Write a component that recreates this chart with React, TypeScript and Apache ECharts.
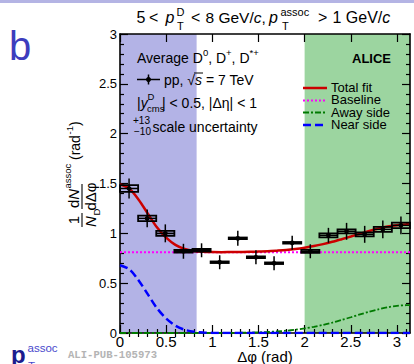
import React, { useEffect, useRef } from 'react';
import * as echarts from 'echarts';

const PI = Math.PI;
const FONT = '"Liberation Sans", Arial, Helvetica, sans-serif';

// Δφ bins (16 bins of width π/16) and the averaged D-hadron correlation
const binCenters = [0.0982, 0.2945, 0.4909, 0.6872, 0.8836, 1.0799, 1.2763, 1.4726, 1.669, 1.8653, 2.0617, 2.258, 2.4544, 2.6507, 2.8471, 3.0434];
const binWidth = PI / 16;
const corrValues = [1.45, 1.15, 1.0, 0.82, 0.83, 0.71, 0.95, 0.76, 0.7, 0.905, 0.82, 0.98, 1.02, 0.99, 1.04, 1.08];
const statErr = [0.1, 0.09, 0.09, 0.075, 0.07, 0.07, 0.075, 0.07, 0.07, 0.07, 0.07, 0.075, 0.085, 0.085, 0.09, 0.09];
const sysErr = [0.034, 0.027, 0.024, 0.013, 0.013, 0.008, 0.008, 0.008, 0.008, 0.008, 0.015, 0.02, 0.02, 0.02, 0.025, 0.028];

// Fit curves, tabulated along Δφ
const curveX = [0, 0.1, 0.2, 0.3, 0.4, 0.5, 0.6, 0.7, 0.8, 0.9, 1.0, 1.1, 1.2, 1.3, 1.4, 1.5, 1.6, 1.7, 1.8, 1.9, 2.0, 2.1, 2.2, 2.3, 2.4, 2.5, 2.6, 2.7, 2.8, 2.9, 3.0, 3.1, PI];
const totalFit = [1.49, 1.45, 1.34, 1.2, 1.06, 0.956, 0.884, 0.843, 0.823, 0.815, 0.812, 0.811, 0.812, 0.813, 0.814, 0.817, 0.82, 0.826, 0.833, 0.843, 0.856, 0.872, 0.892, 0.915, 0.941, 0.968, 0.996, 1.024, 1.048, 1.068, 1.082, 1.089, 1.09];
const nearSide = [0.68, 0.64, 0.53, 0.39, 0.25, 0.146, 0.074, 0.033, 0.013, 0.005, 0.001, 0, 0, 0, 0, 0, 0, 0, 0, 0, 0, 0, 0, 0, 0, 0, 0, 0, 0, 0, 0, 0, 0];
const awaySide = [0, 0, 0, 0, 0, 0, 0, 0, 0, 0, 0.0005, 0.0009, 0.0015, 0.0025, 0.0041, 0.0066, 0.0103, 0.0156, 0.023, 0.0329, 0.0458, 0.062, 0.0817, 0.1047, 0.1305, 0.158, 0.1863, 0.2136, 0.2381, 0.2582, 0.2723, 0.2793, 0.28];
const baselineLevel = 0.81;
const baselineX = [0, PI];

// Near-side and away-side Δφ regions
const nearRegion = [0, 0.83];
const awayRegion = [2.0, PI];

// Axis ticks
const xMajorTicks = [0, 0.5, 1, 1.5, 2, 2.5, 3];
const xMinorTicks = [0.1, 0.2, 0.3, 0.4, 0.6, 0.7, 0.8, 0.9, 1.1, 1.2, 1.3, 1.4, 1.6, 1.7, 1.8, 1.9, 2.1, 2.2, 2.3, 2.4, 2.6, 2.7, 2.8, 2.9, 3.1];
const yRange = [0, 3];
const yInterval = 0.5;

const BLUE_BAND = '#b3b3e6';
const GREEN_BAND = '#9cd5a0';
const RED = '#cc0000';
const MAGENTA = '#ff00ff';
const GREEN = '#007a00';
const BLUE = '#0000ff';

const TOP_Z = 100;

const txt = (text: string, x: number, y: number, size: number, extra: any = {}) => ({
  type: 'text',
  x,
  y,
  z: TOP_Z,
  silent: true,
  style: {
    text,
    fill: '#000',
    fontSize: size,
    fontFamily: FONT,
    lineHeight: size,
    align: 'left',
    verticalAlign: 'middle',
    ...extra,
  },
});

const line = (x1: number, y1: number, x2: number, y2: number, stroke: string, lineWidth: number, lineDash?: number[]) => ({
  type: 'line',
  z: TOP_Z,
  silent: true,
  shape: { x1, y1, x2, y2 },
  style: { stroke, lineWidth, lineDash },
});

const richFont = (size: number, italic = false, extra: any = {}) => ({
  fontSize: size,
  fontFamily: FONT,
  fill: '#000',
  lineHeight: size,
  ...(italic ? { fontStyle: 'italic' } : {}),
  ...extra,
});

export default function App() {
  const ref = useRef<HTMLDivElement>(null);

  useEffect(() => {
    if (!ref.current) return;
    document.body.style.margin = '0';
    const chart = echarts.init(ref.current, null, { renderer: 'svg' });

    const xBase = {
      type: 'value',
      min: 0,
      max: PI,
      z: 1,
      splitLine: { show: false },
      minorSplitLine: { show: false },
    };
    const yBase = {
      type: 'value',
      min: yRange[0],
      max: yRange[1],
      interval: yInterval,
      z: 1,
      splitLine: { show: false },
      minorSplitLine: { show: false },
    };
    const axisLine = { show: true, onZero: false, lineStyle: { color: '#000', width: 1.6 } };
    const tickStyle = { color: '#000', width: 1.2 };

    const ital = { fontStyle: 'italic' };

    const graphic: any[] = [
      // page band
      { type: 'rect', z: TOP_Z, silent: true, shape: { x: 0, y: 0, width: 414, height: 3 }, style: { fill: '#b4b4e4' } },
      // panel letter
      txt('b', 9, 45.5, 40, { fill: '#3d3dbd' }),
      // title
      txt('5', 136.5, 17, 16),
      txt('<', 149, 17, 16),
      txt('p', 165.5, 17, 16, ital),
      txt('D', 176.5, 12, 11),
      txt('T', 177, 26, 11),
      txt('<', 191, 17, 16),
      txt('{n|8 GeV/}{i|c}{n|,}', 205.5, 17, 15.5, { rich: { n: richFont(15.5), i: richFont(15.5, true) } }),
      txt('p', 269, 17, 16, ital),
      txt('assoc', 280.5, 12, 11),
      txt('T', 282, 26, 11),
      txt('>', 318, 17, 16),
      txt('{n|1 GeV/}{i|c}', 332.5, 17, 16, { rich: { n: richFont(16), i: richFont(16, true) } }),
      // legend block, upper left
      txt('{n|Average D}{s|0}{n|, D}{s|+}{n|, D}{s|*+}', 137, 57.5, 14, {
        lineHeight: 20,
        rich: {
          n: richFont(14, false, { lineHeight: 20 }),
          s: richFont(9.5, false, { lineHeight: 10, verticalAlign: 'top' }),
        },
      }),
      line(137, 79.5, 160, 79.5, '#000', 1.5),
      line(148.5, 74.5, 148.5, 84.5, '#000', 1.5),
      { type: 'circle', z: TOP_Z, silent: true, shape: { cx: 148.5, cy: 79.5, r: 2.5 }, style: { fill: '#000' } },
      txt('{n|pp, √}{i|s}{n| = 7 TeV}', 164, 79.5, 14, { rich: { n: richFont(14), i: richFont(14, true) } }),
      line(194, 73, 203, 73, '#000', 1),
      txt('{n||}{i|y}', 137, 102.5, 14, { rich: { n: richFont(14), i: richFont(14, true) } }),
      txt('D', 147.5, 96.5, 9.5),
      txt('cms', 147, 108.5, 9.5),
      txt('| < 0.5, |Δη| < 1', 162, 102.5, 14),
      txt('+13', 133, 120, 10),
      txt('−10', 134, 131.5, 10),
      txt('scale uncertainty', 152.5, 127, 14),
      // experiment label
      txt('ALICE', 352, 58, 13, { fontWeight: 'bold' }),
      // legend block, right
      line(303, 88, 327, 88, RED, 2.5),
      line(303, 100.5, 327, 100.5, MAGENTA, 2, [2, 2]),
      line(303, 112.5, 327, 112.5, GREEN, 1.8, [6, 2, 2, 2]),
      line(303, 125, 327, 125, BLUE, 2.5, [8, 4]),
      txt('Total fit', 331, 87, 13, { lineHeight: 12 }),
      txt('Baseline', 331, 99.6, 13, { lineHeight: 12 }),
      txt('Away side', 331, 112.2, 13, { lineHeight: 12 }),
      txt('Near side', 331, 124.8, 13, { lineHeight: 12 }),
      // x-axis title
      txt('Δφ (rad)', 265, 356.5, 15, { align: 'center', lineHeight: 13 }),
      // y-axis title, reading upwards
      {
        type: 'group',
        x: 82,
        y: 178,
        z: TOP_Z,
        rotation: PI / 2,
        silent: true,
        children: [
          txt('1', -42, -8.5, 15, { align: 'center' }),
          line(-49, 0, -35, 0, '#000', 1.1),
          txt('N', -49, 8.5, 15, ital),
          txt('D', -37.5, 14, 9.5),
          txt('{n|d}{i|N}', -30, -8.5, 15, { rich: { n: richFont(15), i: richFont(15, true) } }),
          txt('assoc', -10.5, -14.5, 9.5),
          line(-31, 0, -6, 0, '#000', 1.1),
          txt('dΔφ', -18.5, 8.5, 15, { align: 'center' }),
          txt('(rad', 18, -7.5, 14),
          txt('-1', 43.5, -13, 9.5),
          txt(')', 52, -7.5, 14),
        ],
      },
      // publication tag
      txt('p', 11, 354, 24, { fontWeight: 'bold', fill: '#1c1c8e' }),
      txt('assoc', 27.5, 348, 11.5, { fill: '#4848cc' }),
      txt('T', 28, 366, 11.5, { fill: '#4848cc' }),
      txt('ALI-PUB-105973', 68, 355, 10.6, { fontFamily: '"Liberation Mono", "DejaVu Sans Mono", monospace', fontWeight: 'bold', fill: '#b4b4b4' }),
    ];

    const option: any = {
      animation: false,
      grid: { left: 120, right: 4, top: 34, bottom: 31, containLabel: false, outerBoundsMode: 'none' },
      tooltip: { show: false },
      xAxis: [
        {
          ...xBase,
          position: 'bottom',
          axisLine,
          axisTick: { show: true, inside: true, length: 8, customValues: xMajorTicks, lineStyle: tickStyle },
          minorTick: { show: false },
          axisLabel: {
            show: true,
            customValues: xMajorTicks,
            color: '#000',
            fontSize: 15,
            fontFamily: FONT,
            margin: 1,
            formatter: (v: number) => String(v),
          },
        },
        {
          ...xBase,
          position: 'bottom',
          axisLine: { show: false },
          axisTick: { show: true, inside: true, length: 4, customValues: xMinorTicks, lineStyle: tickStyle },
          minorTick: { show: false },
          axisLabel: { show: false },
        },
        {
          ...xBase,
          position: 'top',
          axisLine,
          axisTick: { show: true, inside: true, length: 8, customValues: xMajorTicks, lineStyle: tickStyle },
          minorTick: { show: false },
          axisLabel: { show: false },
        },
        {
          ...xBase,
          position: 'top',
          axisLine: { show: false },
          axisTick: { show: true, inside: true, length: 4, customValues: xMinorTicks, lineStyle: tickStyle },
          minorTick: { show: false },
          axisLabel: { show: false },
        },
      ],
      yAxis: [
        {
          ...yBase,
          position: 'left',
          axisLine,
          axisTick: { show: true, inside: true, length: 8, lineStyle: tickStyle },
          minorTick: { show: true, splitNumber: 5, length: 4, lineStyle: tickStyle },
          axisLabel: { show: true, color: '#000', fontSize: 13, fontFamily: FONT, margin: 3 },
        },
        {
          ...yBase,
          position: 'right',
          axisLine,
          axisTick: { show: true, inside: true, length: 8, lineStyle: tickStyle },
          minorTick: { show: true, splitNumber: 5, length: 4, lineStyle: tickStyle },
          axisLabel: { show: false },
        },
      ],
      series: [
        {
          type: 'line',
          data: [],
          silent: true,
          markArea: {
            silent: true,
            z: 0,
            data: [
              [{ xAxis: nearRegion[0], itemStyle: { color: BLUE_BAND } }, { xAxis: nearRegion[1] }],
              [{ xAxis: awayRegion[0], itemStyle: { color: GREEN_BAND } }, { xAxis: awayRegion[1] }],
            ],
          },
        },
        {
          name: 'Baseline',
          type: 'line',
          z: 3,
          symbol: 'none',
          data: baselineX.map((x) => [x, baselineLevel]),
          lineStyle: { color: MAGENTA, width: 2, type: [2, 2] },
        },
        {
          name: 'Away side',
          type: 'line',
          z: 3,
          symbol: 'none',
          smooth: 0.3,
          data: curveX.map((x, i) => [x, awaySide[i]]),
          lineStyle: { color: GREEN, width: 1.8, type: [6, 2, 2, 2] },
        },
        {
          name: 'Near side',
          type: 'line',
          z: 3,
          symbol: 'none',
          smooth: 0.3,
          data: curveX.map((x, i) => [x, nearSide[i]]),
          lineStyle: { color: BLUE, width: 2.5, type: [8, 4] },
        },
        {
          name: 'Total fit',
          type: 'line',
          z: 4,
          symbol: 'none',
          smooth: 0.3,
          data: curveX.map((x, i) => [x, totalFit[i]]),
          lineStyle: { color: RED, width: 2.5 },
        },
        {
          name: 'pp, √s = 7 TeV',
          type: 'custom',
          z: 5,
          data: binCenters.map((x, i) => [x, corrValues[i], statErr[i], sysErr[i]]),
          encode: { x: 0, y: 1 },
          renderItem: (_params: any, api: any) => {
            const x = api.value(0);
            const y = api.value(1);
            const st = api.value(2);
            const sy = api.value(3);
            const [cx, cy] = api.coord([x, y]);
            const xl = api.coord([x - binWidth / 2, y])[0];
            const xr = api.coord([x + binWidth / 2, y])[0];
            const yt = api.coord([x, y + st])[1];
            const yb = api.coord([x, y - st])[1];
            const syt = api.coord([x, y + sy])[1];
            const syb = api.coord([x, y - sy])[1];
            return {
              type: 'group',
              children: [
                {
                  type: 'rect',
                  shape: { x: xl, y: syt, width: xr - xl, height: syb - syt },
                  style: { fill: 'none', stroke: '#000', lineWidth: 1.8 },
                },
                { type: 'line', shape: { x1: cx, y1: yt, x2: cx, y2: yb }, style: { stroke: '#000', lineWidth: 1.5 } },
                { type: 'line', shape: { x1: xl, y1: cy, x2: xr, y2: cy }, style: { stroke: '#000', lineWidth: 1.5 } },
                { type: 'circle', shape: { cx, cy, r: 2.4 }, style: { fill: '#000' } },
              ],
            };
          },
        },
      ],
      graphic,
    };

    chart.setOption(option);
    return () => chart.dispose();
  }, []);

  return <div ref={ref} style={{ width: 414, height: 364 }} />;
}
